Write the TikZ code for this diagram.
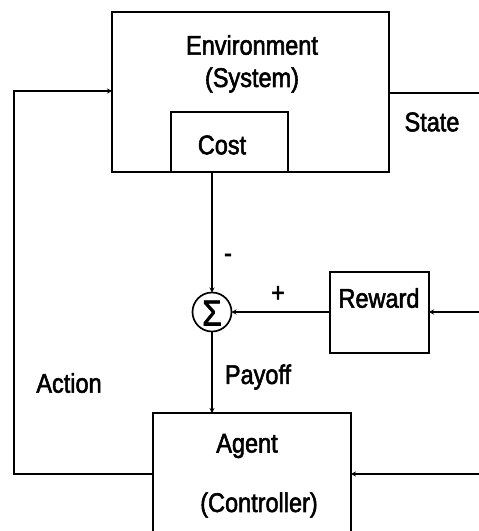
\documentclass[tikz,border=0pt]{standalone}
\usepackage{fontspec}
\setmainfont{Liberation Sans}[FakeStretch=0.87, FakeBold=2]
\usetikzlibrary{arrows.meta}
\begin{document}
\begin{tikzpicture}[x=1pt,y=-1pt,
  every node/.style={inner sep=0pt, outer sep=0pt},
  box/.style={draw, line width=1.7pt, minimum width=#1},
  lbl/.style={font=\fontsize{27}{31}\selectfont},
  line/.style={line width=1.7pt},
  arr/.style={line width=1.7pt, -{Stealth[length=5pt,width=5pt]}}]
\useasboundingbox (0,0) rectangle (479,531);
\clip (0,0) rectangle (479,531);
% blocks
\node[box=277pt, minimum height=160pt] (env) at (250.5,92) {};
\node[lbl] (envt1) at (252,45) {Environment};
\node[lbl] (envt2) at (252,80) {(System)};
\node[box=117pt, minimum height=60pt] (cost) at (229.5,142) {};
\node[lbl] (costt) at (222,145) {Cost};
\node[draw, circle, line width=1.7pt, minimum size=39pt] (sum) at (212,312) {};
\node[font=\fontsize{36}{36}\selectfont] (sumt) at (212,313) {Σ};
\node[box=99pt, minimum height=81pt] (reward) at (379.5,312.5) {};
\node[lbl] (rewt) at (379,298) {Reward};
\node[box=198pt, minimum height=147pt] (agent) at (252,486.5) {};
\node[lbl] (agt1) at (247,446) {Agent};
\node[lbl] (agt2) at (259,505) {(Controller)};
% free ends of the loops
\coordinate (stTop) at (479,93);
\coordinate (stBot) at (479,474);
\coordinate (rwIn) at (479,312);
\coordinate (acBot) at (14,474);
\coordinate (acTop) at (14,91);
% connectors
\draw[line] (env.east |- stTop) -- (stTop);
\draw[arr] (stBot) -- (stBot -| agent.east);
\draw[arr] (rwIn) -- (reward.east |- rwIn);
\draw[arr] (reward.west |- sum.east) -- (sum.east);
\draw[arr] (sum.north |- cost.south) -- (sum.north);
\draw[arr] (sum.south) -- (sum.south |- agent.north);
\draw[arr] (acBot -| agent.west) -- (acBot) -- (acTop) -- (acTop -| env.west);
% signal labels
\node[lbl] (lstate) at (432,122) {State};
\node[lbl] (lminus) at (228,258) {-};
\node[lbl] (lplus) at (278,294) {+};
\node[lbl] (lpay) at (258,377) {Payoff};
\node[lbl] (lact) at (69,383) {Action};
\end{tikzpicture}
\end{document}
